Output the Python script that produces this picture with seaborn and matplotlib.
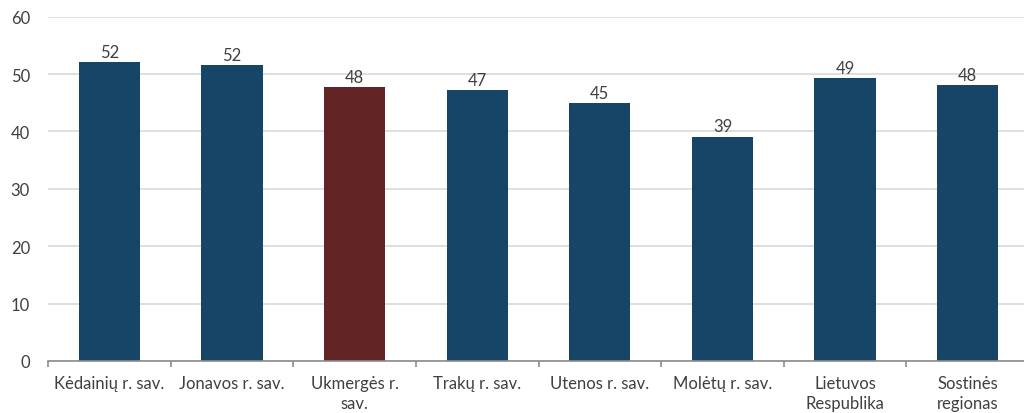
import matplotlib
matplotlib.use("Agg")
import matplotlib.pyplot as plt
import seaborn as sns
import pandas as pd

# Municipalities and their values
categories = ["Kėdainių r. sav.", "Jonavos r. sav.", "Ukmergės r.\nsav.", "Trakų r. sav.",
              "Utenos r. sav.", "Molėtų r. sav.", "Lietuvos\nRespublika", "Sostinės\nregionas"]
values = [52.1, 51.6, 47.8, 47.2, 44.9, 39.1, 49.3, 48.0]
highlight = ["other", "other", "focus", "other", "other", "other", "other", "other"]
y_ticks = [0, 10, 20, 30, 40, 50, 60]

NAVY = "#164567"
MAROON = "#622425"
TEXT = "#404040"

df = pd.DataFrame({"cat": categories, "val": values, "grp": highlight})

sns.set_theme(style="white")
plt.rcParams["font.family"] = ["Lato", "DejaVu Sans"]

fig = plt.figure(figsize=(10.24, 4.14), dpi=100)
ax = fig.add_axes([48 / 1024, 1 - 362 / 414, 981 / 1024, (362 - 17.6) / 414])

sns.barplot(data=df, x="cat", y="val", hue="grp", order=categories,
            palette={"other": NAVY, "focus": MAROON}, width=0.5,
            dodge=False, legend=False, ax=ax, saturation=1, linewidth=0)

for container in ax.containers:
    ax.bar_label(container, fmt="%.0f", padding=1.5, fontsize=12, color=TEXT)

ax.set_ylim(0, 60)
ax.set_xlim(-0.5, len(categories) - 0.5)
ax.set_yticks(y_ticks)
ax.yaxis.grid(True, color="#d9d9d9", linewidth=1.2)
ax.set_axisbelow(True)
ax.set_xlabel("")
ax.set_ylabel("")

for s in ["left", "right", "top"]:
    ax.spines[s].set_visible(False)
ax.spines["bottom"].set_color("#8c8c8c")
ax.spines["bottom"].set_linewidth(1.2)

ax.set_xticks(range(len(categories)))
ax.set_xticklabels(categories, fontsize=12, color=TEXT, linespacing=1.3)
ax.set_xticks([i - 0.5 for i in range(len(categories) + 1)], minor=True)
ax.tick_params(axis="x", which="major", length=0, pad=10)
ax.tick_params(axis="x", which="minor", length=4, width=1.2, color="#8c8c8c", bottom=True)
ax.tick_params(axis="y", length=0, pad=13, labelsize=12, labelcolor=TEXT)

fig.savefig("out.png", dpi=100)
